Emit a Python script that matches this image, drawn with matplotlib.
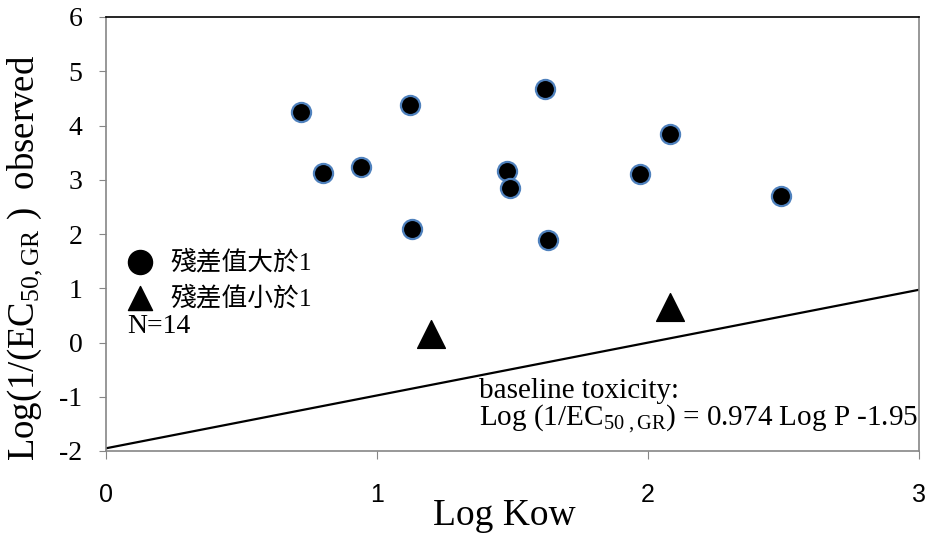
import matplotlib
matplotlib.use("Agg")
import matplotlib.pyplot as plt
import numpy as np

plt.rcParams['font.family'] = ['Liberation Serif', 'Noto Sans CJK TC', 'DejaVu Sans']
plt.rcParams['mathtext.fontset'] = 'custom'
plt.rcParams['mathtext.rm'] = 'Liberation Serif'
plt.rcParams['mathtext.it'] = 'Liberation Serif:italic'
plt.rcParams['axes.unicode_minus'] = False

# residual > 1 (circles)
big_x = [0.72, 0.80, 0.94, 1.12, 1.13, 1.48, 1.49, 1.62, 1.63, 1.97, 2.08, 2.49]
big_y = [4.24, 3.12, 3.23, 4.37, 2.10, 3.16, 2.85, 4.67, 1.89, 3.11, 3.84, 2.70]
# residual < 1 (triangles)
small_x = [1.20, 2.08]
small_y = [0.15, 0.66]
# baseline toxicity line
slope, intercept = 0.974, -1.95
line_x = np.array([0.0, 3.0])

x_ticks = [0, 1, 2, 3]
y_ticks = [-2, -1, 0, 1, 2, 3, 4, 5, 6]

GRAY = '#868686'

fig = plt.figure(figsize=(9.3, 5.41), dpi=100)
ax = fig.add_axes([106 / 930, 1 - 451 / 541, 813 / 930, 434 / 541])

ax.plot(line_x, slope * line_x + intercept, color='black', lw=1.6, zorder=2)
ax.scatter(big_x, big_y, s=190, c='black', edgecolors='#4F81BD',
           linewidths=1.6, zorder=3)
ax.scatter(small_x, small_y, s=400, c='black', marker='^', zorder=3)

ax.set_xlim(0, 3)
ax.set_ylim(-2, 6)
ax.set_xticks(x_ticks)
ax.set_yticks(y_ticks)
ax.tick_params(axis='y', direction='out', length=5, color=GRAY, pad=12,
               labelsize=20)
ax.tick_params(axis='x', direction='out', length=6, color=GRAY, pad=17,
               labelsize=18)
for lab in ax.get_xticklabels():
    lab.set_fontfamily('Liberation Sans')

for side in ('left', 'bottom', 'right'):
    ax.spines[side].set_color(GRAY)
    ax.spines[side].set_linewidth(1.2)
ax.spines['top'].set_color('black')
ax.spines['top'].set_linewidth(1.2)

ax.set_xlabel('Log Kow', fontsize=27)
ax.xaxis.set_label_coords(0.49, -0.11)
ax.set_ylabel(r'Log(1/(EC$_{\mathrm{50,GR}}$ )  observed', fontsize=26.5)
ax.yaxis.set_label_coords(-0.075, 0.445)

# legend keys
ax.scatter([0.0418], [0.4355], s=300, c='black', transform=ax.transAxes,
           clip_on=False)
ax.scatter([0.0418], [0.3525], s=300, c='black', marker='^',
           transform=ax.transAxes, clip_on=False)
ax.text(0.0787, 0.4355, '殘差值大於1', fontsize=18.5, va='center',
        transform=ax.transAxes)
ax.text(0.0787, 0.3525, '殘差值小於1', fontsize=18.5, va='center',
        transform=ax.transAxes)
ax.text(0.026, 0.288, 'N=14', fontsize=20, va='center', transform=ax.transAxes)

ax.text(0.459, 0.122, 'baseline toxicity:', fontsize=21, va='baseline',
        transform=ax.transAxes)
ax.text(0.459, 0.060, r'Log (1/EC$_{\mathrm{50\ ,GR}}$) = 0.974 Log P -1.95',
        fontsize=21, va='baseline', transform=ax.transAxes)

fig.savefig('out.png', dpi=100)
